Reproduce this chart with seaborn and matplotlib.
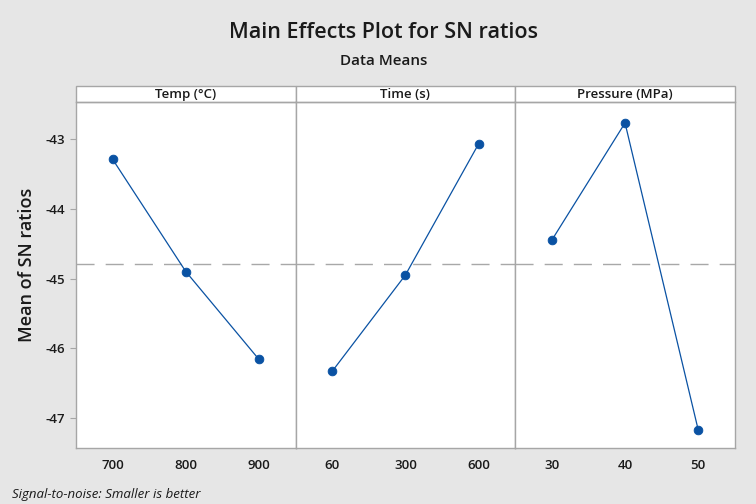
import matplotlib
matplotlib.use("Agg")
import matplotlib.pyplot as plt
import seaborn as sns
import numpy as np
from matplotlib.patches import Rectangle

factors = ["Temp (°C)", "Time (s)", "Pressure (MPa)"]
temp_levels = ["700", "800", "900"]
temp_sn = [-43.29, -44.90, -46.16]
time_levels = ["60", "300", "600"]
time_sn = [-46.33, -44.95, -43.07]
pressure_levels = ["30", "40", "50"]
pressure_sn = [-44.45, -42.77, -47.17]
yticks = [-43, -44, -45, -46, -47]

levels = [temp_levels, time_levels, pressure_levels]
values = [temp_sn, time_sn, pressure_sn]
overall_mean = float(np.mean(temp_sn + time_sn + pressure_sn))

sns.set_theme(style="white")
plt.rcParams["font.family"] = ["Open Sans", "DejaVu Sans"]

bg = "#e6e6e6"
edge = "#a6a6a6"
blue = "#0a52a3"
txt = "#1a1a1a"

fig, axes = plt.subplots(1, 3, figsize=(7.56, 5.04), dpi=100, sharey=True)
fig.patch.set_facecolor(bg)
fig.subplots_adjust(left=0.1005, right=0.972, top=0.7976, bottom=0.111, wspace=0)

for i, ax in enumerate(axes):
    sns.pointplot(x=levels[i], y=values[i], ax=ax, color=blue, markers="o",
                  linewidth=0.9, markersize=6.2, errorbar=None)
    ax.axhline(overall_mean, color="#a8a8a8", linestyle=(0, (13, 8)), linewidth=1.0, zorder=0)
    ax.set_xlim(-0.5, 2.5)
    ax.set_ylim(-47.43, -42.47)
    ax.set_facecolor("white")
    for s in ax.spines.values():
        s.set_color(edge)
        s.set_linewidth(1.0)
    ax.tick_params(axis="both", which="both", direction="out", length=4, width=0.8,
                   color=edge, labelsize=9.5, labelcolor=txt, pad=4)
    for lab in ax.get_xticklabels() + ax.get_yticklabels():
        lab.set_fontweight("semibold")
    ax.set_xlabel("")
    if i == 0:
        ax.set_yticks(yticks)
        ax.set_yticklabels([str(t) for t in yticks], fontweight="semibold")
        ax.tick_params(axis="y", left=True)
    else:
        ax.tick_params(axis="y", left=False, labelleft=False)
    h = 0.046
    ax.add_patch(Rectangle((0, 1), 1, h, transform=ax.transAxes, facecolor="white",
                           edgecolor=edge, linewidth=1.0, clip_on=False))
    ax.text(0.5, 1 + h / 2, factors[i], transform=ax.transAxes, ha="center", va="center",
            fontsize=9.5, color=txt, fontweight="semibold")

axes[0].set_ylabel("Mean of SN ratios", fontsize=13, color=txt, fontweight="semibold")
axes[0].yaxis.set_label_coords(-0.18, 0.53)

fig.text(0.507, 0.935, "Main Effects Plot for SN ratios", ha="center", va="center",
         fontsize=15.5, color=txt, fontweight="semibold")
fig.text(0.507, 0.878, "Data Means", ha="center", va="center", fontsize=11, color=txt,
         fontweight="semibold")
fig.text(0.016, 0.018, "Signal-to-noise: Smaller is better", ha="left", va="center",
         fontsize=9.5, style="italic", color=txt)

fig.savefig("out.png", dpi=100, facecolor=bg)
